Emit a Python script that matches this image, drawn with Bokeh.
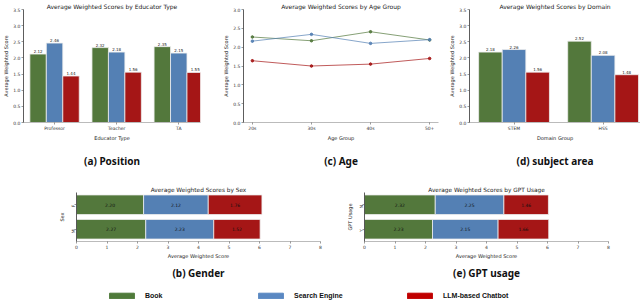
from bokeh.plotting import figure
from bokeh.layouts import column, row
from bokeh.models import (Range1d, FixedTicker, PrintfTickFormatter, Title, Legend,
                          LegendItem, ColumnDataSource, FactorRange)
from bokeh.core.properties import value
from bokeh.embed import file_html
from bokeh.resources import INLINE
import math

# ---------------- data ----------------
series = ["Book", "Search Engine", "LLM-based Chatbot"]
colors = ["#53783c", "#5480b4", "#a51616"]
legend_colors = ["#4f7a3a", "#5a88c2", "#c00000"]

educator_types = ["Professor", "Teacher", "TA"]
edu_book = [2.12, 2.32, 2.35]
edu_search = [2.46, 2.18, 2.15]
edu_llm = [1.44, 1.56, 1.55]

age_groups = ["20s", "30s", "40s", "50+"]
age_book = [2.27, 2.17, 2.41, 2.19]
age_search = [2.16, 2.34, 2.10, 2.20]
age_llm = [1.64, 1.50, 1.55, 1.70]

domains = ["STEM", "HSS"]
dom_book = [2.18, 2.52]
dom_search = [2.26, 2.08]
dom_llm = [1.56, 1.48]

sexes = ["F", "M"]
sex_book = [2.20, 2.27]
sex_search = [2.12, 2.23]
sex_llm = [1.76, 1.52]

gpt_usage = ["N", "Y"]
gpt_book = [2.32, 2.23]
gpt_search = [2.25, 2.15]
gpt_llm = [1.46, 1.66]

y_ticks_35 = [0.0, 0.5, 1.0, 1.5, 2.0, 2.5, 3.0, 3.5]
y_ticks_30 = [0.0, 0.5, 1.0, 1.5, 2.0, 2.5, 3.0]
x_ticks_score = [0, 1, 2, 3, 4, 5, 6, 7, 8]

FONT = "DejaVu Sans"
TICK_FS = "4.5px"
LABEL_FS = "5px"
TITLE_FS = "6px"
CAP_FONT = "Noto Sans"
CAP_FS = "10px"


def base_style(p, title, caption, spacer, cap_standoff):
    p.title.text = title
    p.title.align = "center"
    p.title.text_font = FONT
    p.title.text_font_size = TITLE_FS
    p.title.text_font_style = "normal"
    p.title.text_color = "#222222"
    p.title.standoff = 0
    p.outline_line_color = None
    p.grid.visible = False
    p.background_fill_color = "white"
    p.border_fill_color = "white"
    for ax in p.axis:
        ax.major_label_text_font = FONT
        ax.major_label_text_font_size = TICK_FS
        ax.major_label_text_color = "#333333"
        ax.axis_label_text_font = FONT
        ax.axis_label_text_font_size = LABEL_FS
        ax.axis_label_text_font_style = "normal"
        ax.axis_label_text_color = "#222222"
        ax.major_tick_out = 2
        ax.major_tick_in = 0
        ax.minor_tick_out = 0
        ax.minor_tick_in = 0
        ax.major_label_standoff = 1
        ax.axis_label_standoff = 1
        ax.major_tick_line_color = "#555555"
        ax.major_tick_line_width = 0.6
    p.yaxis.axis_line_color = "#333333"
    p.yaxis.axis_line_width = 0.8
    p.xaxis.axis_line_color = "#bbbbbb"
    p.xaxis.axis_line_width = 1.2
    if spacer > 0:
        p.add_layout(Title(text=" ", text_font_size="1px", standoff=spacer), "below")
    p.add_layout(Title(text=caption, align="center", text_font=CAP_FONT,
                       text_font_size=CAP_FS, text_font_style="bold",
                       text_color="#111111", standoff=cap_standoff), "below")


def grouped_bar(cats, vals_list, width, height, xr, ytop, yticks, title, xlabel,
                caption, mleft, mright):
    p = figure(width=width, height=height, x_range=Range1d(*xr), y_range=Range1d(0, ytop),
               output_backend="svg", toolbar_location=None,
               min_border_left=mleft, min_border_right=mright,
               min_border_top=0, min_border_bottom=0)
    w = 0.265
    idx = list(range(len(cats)))
    for k, (vals, c) in enumerate(zip(vals_list, colors)):
        xs = [i + (k - 1) * w for i in idx]
        src = ColumnDataSource(dict(x=xs, top=vals, label=[f"{v:.2f}" for v in vals]))
        p.vbar(x="x", top="top", width=w, source=src, fill_color=c,
               line_color="#eeeeee", line_width=0.8)
        p.text(x="x", y="top", text="label", source=src, text_align="center",
               text_baseline="bottom", y_offset=-1, text_font_size="4px",
               text_color="#222222", text_font=value(FONT))
    p.xaxis.ticker = FixedTicker(ticks=idx)
    p.xaxis.major_label_overrides = {i: c for i, c in enumerate(cats)}
    p.yaxis.ticker = FixedTicker(ticks=yticks)
    p.yaxis.formatter = PrintfTickFormatter(format="%.1f")
    p.xaxis.axis_label = xlabel
    p.yaxis.axis_label = "Average Weighted Score"
    base_style(p, title, caption, 4, 2)
    return p


TOP_H = 168

# (a) position
pa = grouped_bar(educator_types, [edu_book, edu_search, edu_llm], 205, TOP_H,
                 (-0.5, 2.35), 3.5, y_ticks_35,
                 "Average Weighted Scores by Educator Type", "Educator Type",
                 "(a) Position", 13, 5)

# (c) age
pc = figure(width=240, height=TOP_H, x_range=Range1d(-0.15, 3.15), y_range=Range1d(0, 3.0),
            output_backend="svg", toolbar_location=None,
            min_border_left=38, min_border_right=7, min_border_top=0, min_border_bottom=0)
age_idx = list(range(len(age_groups)))
for vals, c in zip([age_book, age_search, age_llm], colors):
    pc.line(age_idx, vals, line_color=c, line_width=1.0, line_alpha=0.7)
    pc.scatter(age_idx, vals, size=2.5, fill_color=c, line_color=c, fill_alpha=0.9)
pc.xaxis.ticker = FixedTicker(ticks=age_idx)
pc.xaxis.major_label_overrides = {i: a for i, a in enumerate(age_groups)}
pc.yaxis.ticker = FixedTicker(ticks=y_ticks_30)
pc.yaxis.formatter = PrintfTickFormatter(format="%.1f")
pc.xaxis.axis_label = "Age Group"
pc.yaxis.axis_label = "Average Weighted Score"
base_style(pc, "Average Weighted Scores by Age Group", "(c) Age", 4, 2)

# (d) subject area
pd_ = grouped_bar(domains, [dom_book, dom_search, dom_llm], 195, TOP_H,
                  (-0.5, 1.42), 3.5, y_ticks_35,
                  "Average Weighted Scores by Domain", "Domain Group",
                  "(d) subject area", 24, 0)


def stacked_h(cats, vals_list, width, height, title, ylabel, caption, mleft, mright):
    p = figure(width=width, height=height, x_range=Range1d(0, 8),
               y_range=FactorRange(factors=list(reversed(cats))),
               output_backend="svg", toolbar_location=None,
               min_border_left=mleft, min_border_right=mright,
               min_border_top=24, min_border_bottom=0)
    left = [0.0] * len(cats)
    for vals, c in zip(vals_list, colors):
        right = [l + v for l, v in zip(left, vals)]
        mid = [l + v / 2 for l, v in zip(left, vals)]
        src = ColumnDataSource(dict(y=cats, left=left, right=right, mid=mid,
                                    label=[f"{v:.2f}" for v in vals]))
        p.hbar(y="y", left="left", right="right", height=0.8, source=src,
               fill_color=c, line_color="#eeeeee", line_width=0.8)
        p.text(x="mid", y="y", text="label", source=src, text_align="center",
               text_baseline="middle", text_font_size="4.5px", text_color="#111111",
               text_font=value(FONT))
        left = right
    p.xaxis.ticker = FixedTicker(ticks=x_ticks_score)
    p.xaxis.axis_label = "Average Weighted Score"
    p.yaxis.axis_label = ylabel
    base_style(p, title, caption, 0, 5)
    p.yaxis.major_label_orientation = math.pi / 2
    p.title.text_font_size = "5.8px"
    return p


BOT_H = 114
pb = stacked_h(sexes, [sex_book, sex_search, sex_llm], 330, BOT_H,
               "Average Weighted Scores by Sex", "Sex", "(b) Gender", 76, 10)
pe = stacked_h(gpt_usage, [gpt_book, gpt_search, gpt_llm], 310, BOT_H,
               "Average Weighted Scores by GPT Usage", "GPT Usage", "(e) GPT usage", 34, 32)

# legend row: proxy bars lie outside this strip's visible ranges, only the legend shows
lp = figure(width=640, height=18, x_range=Range1d(-30, -29), y_range=Range1d(-30, -29),
            output_backend="svg", toolbar_location=None, min_border=0)
lp.axis.visible = False
lp.grid.visible = False
lp.outline_line_color = None
items = []
for name, c, vals in zip(series, legend_colors, [edu_book, edu_search, edu_llm]):
    src = ColumnDataSource(dict(x=list(range(len(vals))), top=vals))
    r = lp.vbar(x="x", top="top", width=0.5, source=src, fill_color=c, line_color=c)
    items.append(LegendItem(label=name, renderers=[r]))
leg = Legend(items=items, orientation="horizontal", location=(106, 1),
             glyph_width=31, glyph_height=7, label_standoff=8, spacing=12,
             label_width=98, padding=0, margin=0, border_line_color=None,
             background_fill_alpha=0, label_text_font="Liberation Sans",
             label_text_font_size="7px", label_text_font_style="bold",
             label_text_color="#111111")
lp.add_layout(leg)

layout = column(row(pa, pc, pd_), row(pb, pe), lp)
open("out.html", "w").write(file_html(layout, INLINE))
